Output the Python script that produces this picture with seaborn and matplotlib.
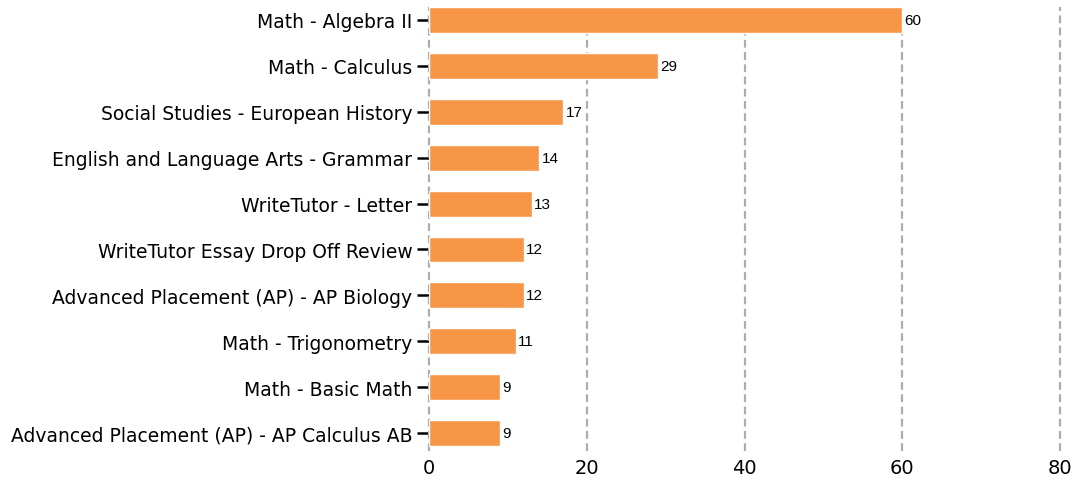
import matplotlib
matplotlib.use("Agg")
import matplotlib.pyplot as plt
import seaborn as sns
import pandas as pd

categories = [
    "Math - Algebra II",
    "Math - Calculus",
    "Social Studies - European History",
    "English and Language Arts - Grammar",
    "WriteTutor - Letter",
    "WriteTutor Essay Drop Off Review",
    "Advanced Placement (AP) - AP Biology",
    "Math - Trigonometry",
    "Math - Basic Math",
    "Advanced Placement (AP) - AP Calculus AB",
]
values = [60, 29, 17, 14, 13, 12, 12, 11, 9, 9]
x_ticks = [0, 20, 40, 60, 80]

df = pd.DataFrame({"category": categories, "value": values})

sns.set_theme(style="white")
plt.rcParams["font.family"] = ["DejaVu Sans"]

W, H = 1074, 481
fig = plt.figure(figsize=(W / 100, H / 100), dpi=100)
ax = fig.add_axes([429 / W, 1 - 452 / H, (1060 - 429) / W, (452 - 8) / H])

sns.barplot(data=df, x="value", y="category", color="#F79646", saturation=1,
            width=0.566, ax=ax, zorder=3)

ax.set_xlim(0, 80)
ax.set_ylim(9.39, -0.283)
ax.set_xticks(x_ticks)
ax.set_xticklabels([str(t) for t in x_ticks])
for t in x_ticks:
    ln = ax.axvline(t, color="#adadad", linestyle=(0, (3.5, 2)), linewidth=1.6,
                    zorder=1, clip_on=False)
    ln.set_snap(True)

for s in ax.spines.values():
    s.set_visible(False)
ax.set_xlabel("")
ax.set_ylabel("")
ax.tick_params(axis="y", which="major", length=9, width=1.8, color="black",
               labelsize=13.5, pad=3, left=True)
ax.tick_params(axis="x", length=0, labelsize=14, pad=5)
for lbl in ax.get_yticklabels() + ax.get_xticklabels():
    lbl.set_color("black")

for i, v in enumerate(values):
    ax.text(v + 0.3, i, str(v), va="center", ha="left", fontsize=11,
            family="Liberation Sans", color="black", zorder=4)

fig.savefig("out.png", dpi=100)
